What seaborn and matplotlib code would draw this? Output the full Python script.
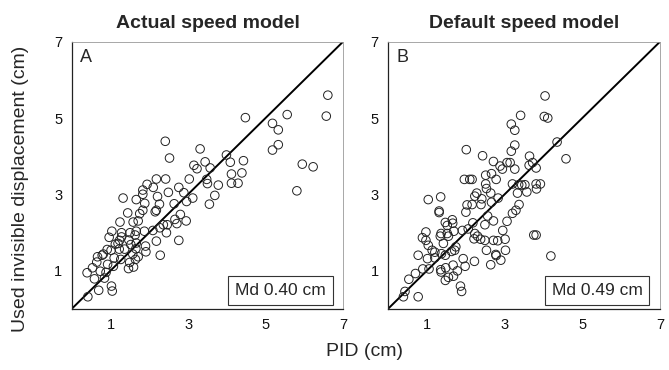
import pandas as pd
import matplotlib
matplotlib.use("Agg")
import matplotlib.pyplot as plt
import seaborn as sns

# panel A: actual speed model (PID, used invisible displacement)
actual_x = [6.61, 6.57, 5.56, 4.48, 5.18, 5.33, 5.33, 5.18, 5.95, 6.23, 5.81, 2.41, 2.52, 3.31, 3.15,
            3.23, 3.44, 3.57, 3.99, 4.09, 4.43, 4.39, 4.12, 4.12, 4.29, 3.48, 3.50, 3.78, 3.69, 3.55,
            3.03, 2.89, 2.96, 3.12, 2.76, 2.42, 2.49, 2.18, 2.10, 2.21, 2.26, 2.18, 2.15, 1.94, 1.83,
            1.83, 1.88, 1.83, 1.75, 1.66, 1.32, 1.44, 1.58, 1.71, 1.24, 2.64, 2.80, 2.66, 2.71, 2.95,
            2.46, 2.36, 2.44, 2.27, 2.09, 2.18, 2.28, 2.76, 1.87, 1.66, 1.63, 1.50, 1.28, 1.28, 1.23,
            1.03, 0.96, 1.47, 1.52, 1.66, 1.90, 1.91, 1.65, 1.57, 1.71, 1.64, 1.49, 1.59, 1.46, 1.36,
            1.22, 1.19, 1.12, 1.09, 1.26, 1.01, 0.91, 0.78, 0.66, 0.81, 0.64, 0.53, 0.39, 0.58, 0.73,
            0.92, 1.07, 0.88, 0.84, 0.69, 1.02, 1.04, 0.41]
actual_y = [5.60, 5.05, 5.09, 5.01, 4.86, 4.69, 4.30, 4.16, 3.79, 3.72, 3.09, 4.39, 3.95, 4.19, 3.76,
            3.67, 3.85, 3.69, 4.03, 3.84, 3.88, 3.56, 3.53, 3.29, 3.29, 3.39, 3.28, 3.24, 2.97, 2.74,
            3.40, 3.04, 2.81, 2.90, 3.18, 3.40, 3.05, 3.40, 3.18, 2.94, 2.74, 2.58, 2.54, 3.26, 3.11,
            3.00, 2.76, 2.58, 2.49, 2.86, 2.90, 2.51, 2.27, 2.30, 2.27, 2.75, 2.47, 2.34, 2.23, 2.30,
            2.20, 2.20, 1.99, 2.12, 2.05, 1.77, 1.40, 1.79, 2.03, 2.03, 1.93, 1.99, 1.99, 1.88, 1.79,
            2.03, 1.87, 1.80, 1.68, 1.72, 1.64, 1.49, 1.57, 1.43, 1.36, 1.29, 1.21, 1.09, 1.05, 1.56,
            1.56, 1.71, 1.69, 1.33, 1.29, 1.53, 1.55, 1.40, 1.36, 1.43, 1.22, 1.07, 0.94, 0.78, 0.98,
            1.16, 1.11, 0.95, 0.80, 0.48, 0.59, 0.46, 0.31]

# panel B: default speed model
default_x = [4.04, 4.02, 4.11, 3.41, 3.17, 3.26, 3.26, 3.17, 4.35, 4.58, 2.01, 2.43, 2.71, 2.88, 2.94,
             3.06, 3.14, 3.26, 3.64, 3.63, 3.72, 3.81, 2.66, 2.51, 2.78, 1.96, 2.10, 2.16, 2.51, 2.53,
             2.64, 3.20, 3.36, 3.44, 3.52, 3.33, 3.57, 3.81, 3.92, 3.82, 2.23, 2.28, 2.41, 2.83, 2.66,
             2.39, 2.16, 2.03, 2.00, 1.03, 1.35, 1.31, 1.31, 3.37, 3.29, 3.20, 2.56, 3.06, 2.71, 2.49,
             2.18, 1.65, 1.66, 1.47, 1.52, 1.69, 1.91, 2.06, 2.23, 2.21, 2.38, 2.30, 2.49, 2.71, 2.82,
             2.95, 3.01, 3.75, 3.81, 1.36, 1.52, 1.55, 1.34, 1.42, 0.97, 0.88, 0.97, 1.03, 1.13, 1.20,
             1.37, 1.47, 1.63, 1.74, 1.71, 1.01, 1.20, 0.77, 1.93, 2.22, 2.53, 2.77, 3.02, 2.78, 2.90,
             4.19, 2.64, 0.89, 1.05, 1.35, 1.36, 1.48, 1.67, 1.98, 1.78, 1.55, 1.47, 1.68, 1.86, 1.89,
             0.70, 0.53, 0.43, 0.39, 0.77]
default_y = [5.58, 5.04, 5.00, 5.07, 4.84, 4.68, 4.29, 4.13, 4.37, 3.93, 4.17, 4.01, 3.86, 3.74, 3.66,
             3.83, 3.83, 3.66, 4.00, 3.76, 3.83, 3.69, 3.54, 3.50, 3.39, 3.39, 3.39, 3.39, 3.27, 3.15,
             3.03, 3.27, 3.25, 3.24, 3.25, 3.03, 3.06, 3.27, 3.27, 3.14, 2.95, 3.03, 2.88, 2.90, 2.79,
             2.73, 2.73, 2.72, 2.53, 2.86, 2.93, 2.56, 2.52, 2.73, 2.58, 2.50, 2.43, 2.29, 2.30, 2.20,
             2.25, 2.33, 2.24, 2.26, 2.18, 2.03, 2.05, 2.09, 1.97, 1.83, 1.82, 1.90, 1.79, 1.79, 1.78,
             2.05, 1.82, 1.93, 1.93, 1.97, 1.97, 1.90, 1.90, 1.71, 2.01, 1.86, 1.79, 1.66, 1.53, 1.48,
             1.44, 1.40, 1.50, 1.62, 1.53, 1.31, 1.33, 1.40, 1.31, 1.24, 1.53, 1.42, 1.53, 1.39, 1.27,
             1.38, 1.15, 1.04, 1.04, 1.02, 0.96, 1.07, 1.14, 1.11, 0.99, 0.82, 0.74, 0.85, 0.59, 0.45,
             0.92, 0.77, 0.45, 0.31, 0.31]

panels = [("Actual speed model", "A", "Md 0.40 cm", actual_x, actual_y),
          ("Default speed model", "B", "Md 0.49 cm", default_x, default_y)]
ticks = [1, 2, 3, 4, 5, 6, 7]
tick_labels = ["1", "", "3", "", "5", "", "7"]

sns.set_style("white")
plt.rcParams["font.family"] = ["Liberation Sans", "DejaVu Sans"]

fig = plt.figure(figsize=(6.69, 3.70), dpi=100)
ax_a = fig.add_axes([0.1076, 0.166, 0.405, 0.721])
ax_b = fig.add_axes([0.5804, 0.166, 0.406, 0.721])

for ax, (title, letter, md, xs, ys) in zip([ax_a, ax_b], panels):
    df = pd.DataFrame({"pid": xs, "used": ys})
    ax.plot([0, 7], [0, 7], color="black", lw=1.4, zorder=1)
    sns.scatterplot(data=df, x="pid", y="used", ax=ax, s=38, marker="o",
                    facecolor="none", edgecolor="#222222", linewidth=0.7, zorder=2)
    ax.set_xlim(0, 7)
    ax.set_ylim(0, 7)
    ax.set_xticks(ticks)
    ax.set_xticklabels(tick_labels)
    ax.set_yticks(ticks)
    ax.set_yticklabels(tick_labels)
    ax.tick_params(direction="in", length=4, width=0.8, labelsize=10.5, pad=7, colors="#111111")
    ax.set_xlabel("")
    ax.set_ylabel("")
    ax.set_title(title, fontsize=14, fontweight="bold", pad=10)
    for side in ["left", "bottom"]:
        ax.spines[side].set_color("#222222")
        ax.spines[side].set_linewidth(0.9)
    for side in ["top", "right"]:
        ax.spines[side].set_color("#999999")
        ax.spines[side].set_linewidth(0.6)
    ax.text(0.2, 6.8, letter, fontsize=13, ha="left", va="top")
    ax.text(5.38, 0.47, md, fontsize=12.5, ha="center", va="center",
            bbox=dict(boxstyle="square,pad=0.4", facecolor="white", edgecolor="#333333", lw=0.8))

fig.text(0.03, 0.49, "Used invisible displacement (cm)", rotation=90, fontsize=14,
         ha="center", va="center")
fig.text(0.545, 0.05, "PID (cm)", fontsize=14, ha="center", va="center")

fig.savefig("out.png", dpi=100)
